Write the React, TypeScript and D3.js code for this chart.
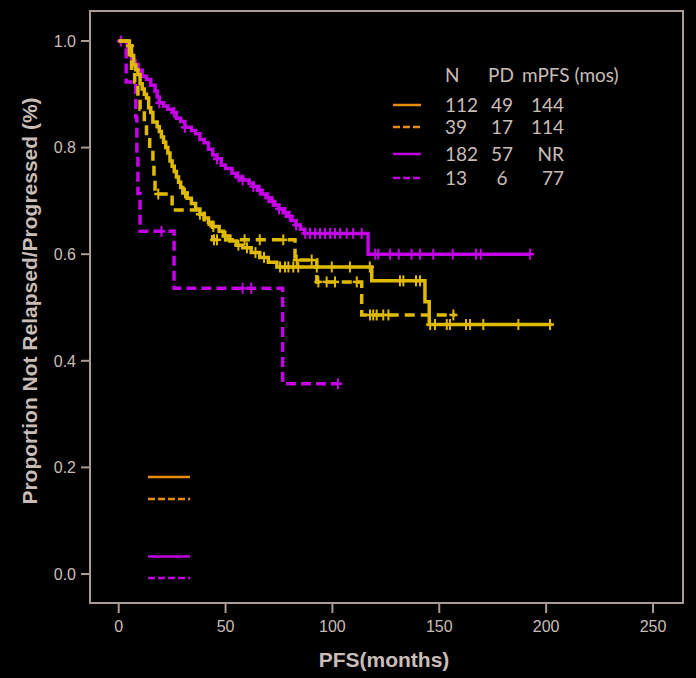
import React from "react";
import * as d3 from "d3";

const W = 696;
const H = 678;

const xTicks = [0, 50, 100, 150, 200, 250];
const yTicks = [0, 0.2, 0.4, 0.6, 0.8, 1.0];

// Yellow solid (N=112)
const goldSolidSteps: [number, number][] = [
  [0, 1], [5, 0.991], [6, 0.973], [7, 0.955], [8, 0.946], [9, 0.937], [10, 0.92], [11, 0.91],
  [12, 0.9], [13, 0.893], [14, 0.875], [15, 0.866], [16, 0.848], [18, 0.839], [19, 0.83],
  [20, 0.82], [21, 0.81], [22, 0.8], [23, 0.79], [24, 0.775], [25, 0.765], [26, 0.755],
  [27, 0.745], [28, 0.735], [29, 0.725], [30, 0.715], [32, 0.705], [34, 0.695], [36, 0.685],
  [38, 0.675], [40, 0.668], [42, 0.66], [44, 0.652], [47, 0.643], [49, 0.634], [52, 0.625],
  [55, 0.617], [58, 0.612], [62, 0.603], [66, 0.594], [70, 0.585], [74, 0.576],
  [118.4, 0.55], [143.3, 0.511], [145.3, 0.468],
];
const goldSolidEnd = 202.6;
const goldSolidCensor = [5.3, 31, 38, 44.3, 50, 56, 60, 64, 68, 75.5, 77.8, 79.4, 81.7, 84, 92.7, 99.7,
  108.2, 117.5, 131.6, 133.2, 139.1, 141, 145.7, 148, 153.5, 155, 162.5, 164.4, 170.6, 187, 201.8];

// Yellow dashed (N=39)
const goldDashSteps: [number, number][] = [
  [0, 1], [5, 0.974], [6, 0.949], [7.5, 0.923], [9, 0.897], [10, 0.872], [12, 0.846], [13, 0.82],
  [14.5, 0.795], [16, 0.769], [16.5, 0.744], [17, 0.713], [25, 0.683], [40, 0.656], [44, 0.627],
  [82.5, 0.589], [92.7, 0.548], [113.7, 0.486],
];
const goldDashEnd = 157.4;
const goldDashCensor = [18.5, 44.6, 46, 58.9, 66, 77, 83.3, 90.3, 93.4, 97.3, 101.2, 111.4,
  117.6, 119.1, 120.7, 123.8, 126.2, 156.6];

// Magenta solid (N=182)
const magSolidSteps: [number, number][] = [
  [0, 1], [4, 0.989], [5, 0.978], [6, 0.967], [7, 0.956], [9, 0.945], [11, 0.934], [13, 0.928],
  [15, 0.917], [17, 0.906], [18, 0.895], [19, 0.884], [21, 0.878], [23, 0.872], [25, 0.866],
  [27, 0.855], [29, 0.849], [31, 0.838], [34, 0.832], [36, 0.826], [38, 0.815], [40, 0.809],
  [42, 0.797], [44, 0.786], [46, 0.779], [48, 0.767], [50, 0.761], [53, 0.752], [55, 0.745],
  [58, 0.739], [61, 0.733], [63, 0.727], [65, 0.72], [67, 0.713], [69, 0.706], [71, 0.699],
  [73, 0.692], [75, 0.685], [77, 0.678], [79, 0.671], [81, 0.663], [83, 0.655], [85, 0.647],
  [87, 0.639], [116.7, 0.6],
];
const magSolidEnd = 193;
const magSolidCensor = [1, 8, 19, 26, 31, 46, 56, 58, 63, 66, 70, 72, 75, 78, 80, 83,
  87.3, 89.5, 91.9, 94.2, 96.5, 98.9, 101.2, 103.6, 106.7, 109.7, 113.7,
  120, 121.5, 127, 131, 137, 141, 147.2, 156.3, 167.2, 169.4, 192.5];

// Magenta dashed (N=13)
const magDashSteps: [number, number][] = [
  [0, 1], [3.5, 0.923], [8, 0.857], [8.5, 0.786], [9, 0.714], [10, 0.643], [25.9, 0.536], [76.7, 0.357],
];
const magDashEnd = 102.6;
const magDashCensor = [20, 58, 62, 102.6];

// Legend table
const legendHeader = ["N", "PD", "mPFS (mos)"];
const legendN = ["112", "39", "182", "13"];
const legendPD = ["49", "17", "57", "6"];
const legendMPFS = ["144", "114", "NR", "77"];

const GOLD = "#dfba00";
const MAG = "#c400e6";
const LEG_ORANGE = "#e88c0c";
const LEG_MAG = "#c000e0";
const TXT = "#c9bdb7";
const AX = "#a99b95";

const x = d3.scaleLinear().domain([0, 250]).range([118.7, 653]);
const y = d3.scaleLinear().domain([0, 1]).range([574, 41]);

function survAt(steps: [number, number][], t: number) {
  let s = steps[0][1];
  for (const [tt, ss] of steps) {
    if (tt <= t) s = ss;
  }
  return s;
}

const line = d3
  .line<[number, number]>()
  .x((d) => x(d[0]))
  .y((d) => y(d[1]))
  .curve(d3.curveStepAfter);

function Curve({ steps, end, censor, color, dash }: { steps: [number, number][]; end: number; censor: number[]; color: string; dash?: string }) {
  const pts: [number, number][] = [...steps, [end, steps[steps.length - 1][1]]];
  return (
    <g>
      <path d={line(pts) || ""} fill="none" stroke={color} strokeWidth={3.5} strokeDasharray={dash} />
      {censor.map((t, i) => {
        const s = survAt(steps, t);
        return (
          <g key={i}>
            <line x1={x(t)} x2={x(t)} y1={y(s) - 5.5} y2={y(s) + 5.5} stroke={color} strokeWidth={2} />
            <line x1={x(t) - 4} x2={x(t) + 4} y1={y(s)} y2={y(s)} stroke={color} strokeWidth={2.5} />
          </g>
        );
      })}
    </g>
  );
}

export default function App() {
  const rowY = [105, 127, 154, 178];
  const legColors = [LEG_ORANGE, LEG_ORANGE, LEG_MAG, LEG_MAG];
  const legDash = [undefined, "7,3", undefined, "7,3"];
  const blY = [477, 499, 556.5, 578];
  return (
    <svg width={W} height={H} style={{ position: "absolute", left: 0, top: 0, background: "#000" }}>
      <rect x={0} y={0} width={W} height={H} fill="#000" />
      <rect x={90} y={11} width={593} height={592} fill="none" stroke={AX} strokeWidth={2} />
      {yTicks.map((v) => (
        <g key={"y" + v}>
          <line x1={81} x2={90} y1={y(v)} y2={y(v)} stroke={AX} strokeWidth={2} />
          <text x={76} y={y(v)} dy="0.36em" textAnchor="end" fill={TXT} fontFamily="Liberation Sans, Arial, sans-serif" fontSize={16}>
            {v.toFixed(1)}
          </text>
        </g>
      ))}
      {xTicks.map((v) => (
        <g key={"x" + v}>
          <line x1={x(v)} x2={x(v)} y1={603} y2={613} stroke={AX} strokeWidth={2} />
          <text x={x(v)} y={632} textAnchor="middle" fill={TXT} fontFamily="Liberation Sans, Arial, sans-serif" fontSize={16}>
            {v}
          </text>
        </g>
      ))}
      <text x={384} y={667} textAnchor="middle" fill={TXT} fontFamily="Liberation Sans, Arial, sans-serif" fontWeight="bold" fontSize={21}>
        PFS(months)
      </text>
      <text transform="translate(37,301) rotate(-90)" textAnchor="middle" fill={TXT} fontFamily="Liberation Sans, Arial, sans-serif" fontWeight="bold" fontSize={21}>
        Proportion Not Relapsed/Progressed (%)
      </text>

      <Curve steps={magSolidSteps} end={magSolidEnd} censor={magSolidCensor} color={MAG} />
      <Curve steps={magDashSteps} end={magDashEnd} censor={magDashCensor} color={MAG} dash="10,5" />
      <Curve steps={goldDashSteps} end={goldDashEnd} censor={goldDashCensor} color={GOLD} dash="10,6" />
      <Curve steps={goldSolidSteps} end={goldSolidEnd} censor={goldSolidCensor} color={GOLD} />

      <g fontFamily="Lato, 'Open Sans', sans-serif" fontSize={19} fill={TXT}>
        <text x={445} y={82}>{legendHeader[0]}</text>
        <text x={488} y={82}>{legendHeader[1]}</text>
        <text x={522} y={82}>{legendHeader[2]}</text>
        {rowY.map((ry, i) => (
          <g key={"row" + i}>
            <line x1={393} x2={421} y1={ry} y2={ry} stroke={legColors[i]} strokeWidth={2.5} strokeDasharray={legDash[i]} />
            <text x={445} y={ry + 6.5}>{legendN[i]}</text>
            <text x={502} y={ry + 6.5} textAnchor="middle">{legendPD[i]}</text>
            <text x={564} y={ry + 6.5} textAnchor="end">{legendMPFS[i]}</text>
          </g>
        ))}
      </g>
      {blY.map((by, i) => (
        <line key={"bl" + i} x1={148} x2={190} y1={by} y2={by} stroke={legColors[i]} strokeWidth={2.5} strokeDasharray={legDash[i]} />
      ))}
    </svg>
  );
}
